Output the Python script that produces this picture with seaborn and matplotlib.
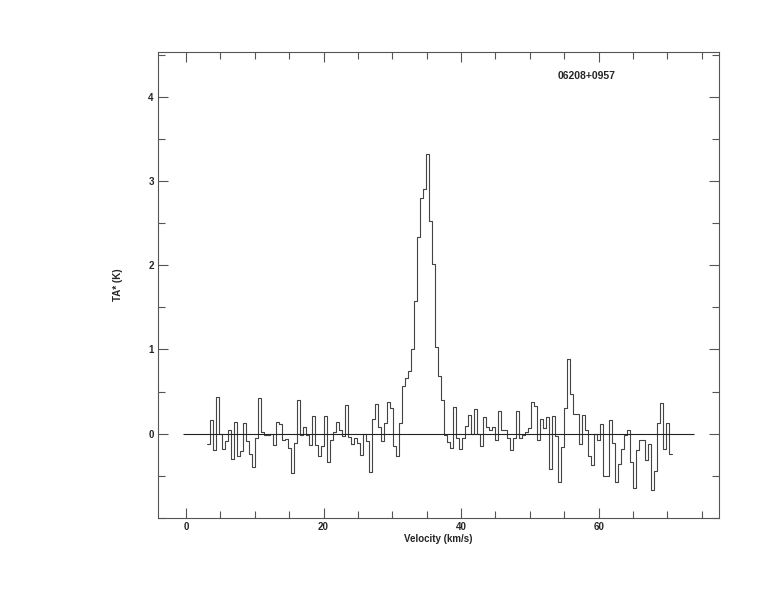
import numpy as np
import matplotlib
matplotlib.use("Agg")
import matplotlib.pyplot as plt
import seaborn as sns
from matplotlib.ticker import MultipleLocator

# spectrum, one value per channel (K)
ta_noise_1 = [-0.12, 0.16, -0.19, 0.44, 0.00, -0.18, -0.09, 0.04, -0.30, 0.14,
              -0.27, -0.21, 0.13, -0.09, -0.24, -0.40, -0.05, 0.42, 0.02, -0.01,
              -0.02, 0.00, -0.13, 0.14, 0.11, -0.07, -0.06, -0.17, -0.47, -0.11,
              0.40, -0.02, 0.08, -0.01, -0.13, 0.21, -0.13, -0.26, -0.15, 0.21]
ta_noise_2 = [-0.33, -0.08, 0.02, 0.14, 0.04, -0.03, 0.34, -0.04, -0.12, -0.05,
              -0.11, -0.25, 0.00, -0.09, -0.45, 0.17, 0.35, 0.08, -0.09, 0.13,
              0.38, 0.31, -0.15, -0.27, 0.13, 0.57]
ta_line = [0.66, 0.75, 1.01, 1.58, 2.33, 2.80, 2.90, 3.32, 2.52, 2.01, 1.03, 0.68, 0.40]
ta_noise_3 = [-0.02, -0.10, -0.17, 0.32, -0.05, -0.18, -0.05, 0.09, 0.22, 0.00,
              0.29, 0.00, -0.14, 0.20, 0.08, 0.04, 0.08, -0.07, 0.27, 0.05,
              0.04, -0.05, -0.19, -0.05, 0.27, -0.05, -0.02, 0.02, 0.07, 0.38,
              0.33, -0.08, 0.17, 0.07, 0.20, -0.42, 0.21, -0.03, -0.57, -0.16,
              0.30, 0.89, 0.47]
ta_noise_4 = [0.24, 0.23, -0.12, 0.22, 0.05, -0.27, -0.37, 0.00, -0.08, 0.11,
              -0.50, -0.50, 0.16, -0.11, -0.57, -0.36, -0.18, -0.02, 0.04, -0.34,
              -0.64, -0.19, -0.07, -0.08, -0.31, -0.12, -0.67, -0.44, 0.13, 0.36,
              -0.18, 0.13, -0.24]

v_start = 3.05      # km/s, left edge of first channel
dv = 0.4364         # km/s channel width
baseline_range = [-0.45, 73.9]
y_ticks = [0, 1, 2, 3, 4]
source_name = "06208+0957"

ta = np.array(ta_noise_1 + ta_noise_2 + ta_line + ta_noise_3 + ta_noise_4)
edges = v_start + dv * np.arange(len(ta) + 1)
ta_steps = np.append(ta, ta[-1])

sns.set_style("ticks")
plt.rcParams["font.family"] = ["Liberation Sans", "DejaVu Sans"]
plt.rcParams["font.weight"] = "bold"

fig = plt.figure(figsize=(7.74, 6.12), dpi=100)
ax = fig.add_axes([0.2041, 0.1536, 0.7248, 0.7614])

sns.lineplot(x=edges, y=ta_steps, drawstyle="steps-post", color="#444444",
             linewidth=0.8, ax=ax, estimator=None, sort=False)
ax.hlines(0, baseline_range[0], baseline_range[1], color="#222222", linewidth=0.8)

ax.set_xlim(-4.07, 77.5)
ax.set_ylim(-1.0, 4.53)
ax.xaxis.set_major_locator(MultipleLocator(20))
ax.xaxis.set_minor_locator(MultipleLocator(5))
ax.set_yticks(y_ticks)
ax.yaxis.set_minor_locator(MultipleLocator(0.5))
ax.tick_params(which="both", direction="in", top=True, right=True,
               color="#555555", width=0.8, labelsize=7, pad=3)
ax.tick_params(which="major", length=7)
ax.tick_params(which="minor", length=5)
for lab in ax.get_xticklabels() + ax.get_yticklabels():
    lab.set_fontweight("bold")
for sp in ax.spines.values():
    sp.set_color("#555555")
    sp.set_linewidth(0.8)

ax.set_xlabel("Velocity (km/s)", fontsize=7, fontweight="bold", labelpad=1)
ax.set_ylabel("TA* (K)", fontsize=7, fontweight="bold", labelpad=18)
ax.text(54.0, 4.25, source_name, fontsize=7.5, fontweight="bold", va="center")

fig.savefig("out.png", dpi=100)
